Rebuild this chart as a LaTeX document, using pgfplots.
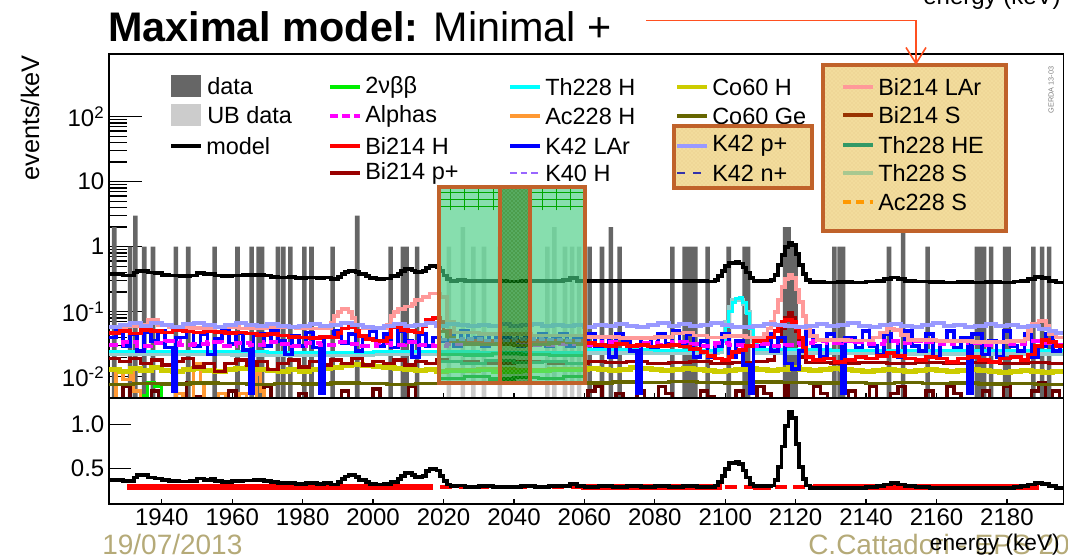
\documentclass[border=0pt]{standalone}
\usepackage{pgfplots}
\pgfplotsset{compat=1.18}
\usepackage{fontspec}
\setmainfont{Liberation Sans}
\usetikzlibrary{patterns,arrows.meta}

\definecolor{datagray}{HTML}{666666}
\definecolor{ubgray}{HTML}{CCCCCC}
\definecolor{cnu}{HTML}{00EE00}
\definecolor{calpha}{HTML}{FF00FF}
\definecolor{cbiH}{HTML}{FF0000}
\definecolor{cbiP}{HTML}{990000}
\definecolor{cbiLow}{HTML}{660000}
\definecolor{cthH}{HTML}{00FFFF}
\definecolor{cacH}{HTML}{FF9933}
\definecolor{ckL}{HTML}{0000FF}
\definecolor{ckH}{HTML}{9966FF}
\definecolor{ccoH}{HTML}{CCCC00}
\definecolor{ccoGe}{HTML}{666600}
\definecolor{ckp}{HTML}{9999FF}
\definecolor{ckn}{HTML}{3333AA}
\definecolor{cbiL}{HTML}{FF9999}
\definecolor{cbiS}{HTML}{993300}
\definecolor{cthHE}{HTML}{339966}
\definecolor{cthS}{HTML}{99CCCC}
\definecolor{cthSleg}{HTML}{A8C890}
\definecolor{cacS}{HTML}{FF9900}
\definecolor{boxedge}{HTML}{C0622A}
\definecolor{boxfill}{HTML}{F2DC9C}
\definecolor{mint}{RGB}{70,205,130}
\definecolor{khaki}{HTML}{B5AA78}
\definecolor{arrowred}{HTML}{FF5020}

\pgfplotsset{
  rootframe/.style={
    scale only axis, width=715.7pt,
    xmin=1925, xmax=2196,
    axis line style={line width=1pt},
    tick align=inside, xtick pos=bottom, ytick pos=left,
    tick style={black, line width=0.9pt},
    xtick style={/pgfplots/major tick length=3.5pt},
    xtick={1940,1960,...,2180},
    ticklabel style={font=\fontsize{18}{18}\selectfont},
    clip=true,
  },
  comp/.style={const plot, line width=#1, mark=none},
  comp/.default=1.6pt,
}

\begin{document}
\begin{tikzpicture}[x=0.75pt,y=0.75pt]
\path[use as bounding box] (0,0) rectangle (1068,559);

% ---------------- upper panel: spectrum, log scale ----------------
\begin{axis}[rootframe,
  at={(81.75pt,120.75pt)}, anchor=south west, height=258pt,
  ymode=log, ymin=0.0047, ymax=920, log origin y=infty,
  major tick length=24.75pt, minor tick length=13.5pt,
  ytick={0.01,0.1,1,10,100},
  yticklabels={10\textsuperscript{-2},10\textsuperscript{-1},1,10,10\textsuperscript{2}},
  xticklabels={},
]
% data counts per 1 keV bin
\addplot[ybar, bar width=1.3, bar shift=0pt, fill=datagray, draw=none] coordinates {
(1926.5,2)(1931,1)(1932.5,3)(1935,1)(1937.5,1)(1944,1)(1947.5,1)(1955,1)(1961.5,1)
(1965.5,1)(1967.5,1)(1968.5,1)(1973,1)(1974.5,1)(1976.5,1)(1980.5,1)(1982.5,1)
(1988.5,1)(1995.5,3)(2005,1)(2008.5,1)(2009.5,1)(2012.5,1)(2061.5,1)(2065,1)
(2067.5,2)(2070,1)(2085,1)(2088.5,1)(2089.5,1)(2090.5,1)(2091.5,1)(2095,1)(2101,1)
(2105.5,1)(2106.5,1)(2117,2)(2118,2)(2119,1)(2120,1)(2131,1)(2132.5,1)(2133.5,1)
(2146.5,1)(2150.5,2)(2157.5,1)(2171.5,1)(2172.5,1)(2173.5,1)(2175.5,1)(2179.5,1)
(2180.5,1)(2187.5,1)(2190,1)(2192,1)};
% unblinded data inside the blinding window
\addplot[ybar, bar width=1.3, bar shift=0pt, fill=ubgray, draw=none] coordinates {
(2021.5,1)(2025.5,2)(2028.5,1)(2031.5,1)(2036,1)(2044.5,1)(2049.5,1)(2051.5,2)
(2054.5,1)(2056.5,1)(2058.5,1)};

% Bi214 p+ low-level fluctuations
\addplot[comp=2.6pt, cbiLow] coordinates {
(1925,.003)(1929,.007)(1931,.003)(1937,.006)(1939,.003)(1947,.008)(1949,.005)(1951,.003)
(1959,.006)(1961,.003)(1969,.007)(1971,.003)(1979,.0055)(1981,.003)(1991,.006)(1993,.003)
(2000,.0065)(2002,.003)(2010,.007)(2012,.003)(2061,.006)(2063,.007)(2065,.003)(2069,.0055)
(2071,.003)(2075,.006)(2077,.003)(2081,.007)(2083,.0055)(2085,.003)(2093,.006)(2095,.005)
(2097,.003)(2103,.006)(2105,.003)(2109,.007)(2111,.0055)(2113,.003)(2117,.008)(2118,.003)
(2125,.007)(2127,.0055)(2129,.003)(2135,.006)(2137,.003)(2141,.007)(2143,.003)(2147,.0055)
(2149,.007)(2151,.003)(2157,.006)(2159,.003)(2163,.007)(2165,.0055)(2167,.003)(2173,.006)
(2175,.003)(2179,.007)(2181,.003)(2187,.006)(2189,.008)(2191,.003)(2193,.006)(2195,.003)(2196,.003)};
% 2nbb
\addplot[comp=2.4pt, cnu] coordinates {(1925,.003)(1934,.0052)(1936,.008)(1938,.0072)(1940,.003)(2196,.003)};
% Ac228 H
\addplot[comp=2.4pt, cacH] coordinates {
(1925,.003)(1927,.012)(1929,.009)(1931,.014)(1932,.006)(1934,.003)(1944,.0055)(1946,.003)
(1949,.016)(1951,.008)(1952,.003)(1956,.0055)(1958,.003)(1962,.0055)(1964,.003)(1967,.011)
(1968,.006)(1969,.003)(2196,.003)};
% Co60 Ge
\addplot[comp=2.6pt, ccoGe] coordinates {
(1925,.0076)(1932,.0079)(1940,.0077)(1948,.0080)(1956,.0078)(1964,.0076)(1972,.0079)
(1980,.0077)(1988,.0080)(1996,.0078)(2004,.0076)(2012,.0079)(2020,.0078)(2060,.0080)
(2068,.0083)(2076,.0081)(2084,.0084)(2092,.0082)(2100,.0080)(2108,.0083)(2116,.0081)
(2124,.0080)(2132,.0082)(2140,.0079)(2148,.0081)(2156,.0078)(2164,.0080)(2172,.0077)
(2180,.0079)(2188,.0076)(2196,.0076)};
% Co60 H
\addplot[comp=3.6pt, ccoH] coordinates {
(1925,.013)(1928,.012)(1931,.0135)(1934,.0125)(1937,.014)(1940,.0125)(1943,.012)(1946,.013)
(1949,.0135)(1952,.0125)(1955,.012)(1958,.013)(1961,.0135)(1964,.014)(1967,.013)(1970,.0125)
(1973,.012)(1976,.013)(1979,.012)(1982,.013)(1985,.0135)(1988,.014)(1991,.015)(1994,.0155)
(1997,.015)(2000,.0145)(2003,.014)(2006,.0135)(2009,.013)(2012,.0125)(2015,.013)(2018,.012)
(2021,.0125)(2030,.013)(2040,.0125)(2050,.013)(2061,.0135)(2064,.013)(2067,.0125)(2070,.013)
(2073,.014)(2076,.0135)(2079,.013)(2082,.0125)(2085,.013)(2088,.0135)(2091,.013)(2094,.0125)
(2097,.012)(2100,.0125)(2103,.013)(2106,.0135)(2109,.013)(2112,.0125)(2115,.013)(2118,.014)
(2121,.013)(2124,.0125)(2127,.013)(2130,.0135)(2133,.013)(2136,.0125)(2139,.012)(2142,.0125)
(2145,.013)(2148,.0125)(2151,.012)(2154,.0125)(2157,.013)(2160,.0125)(2163,.012)(2166,.0125)
(2169,.013)(2172,.0125)(2175,.012)(2178,.0115)(2181,.012)(2184,.0125)(2187,.012)(2190,.0115)
(2193,.012)(2196,.012)};
% Bi214 p+
\addplot[comp=2.6pt, cbiP] coordinates {
(1925,.019)(1928,.017)(1931,.019)(1934,.016)(1937,.018)(1940,.015)(1943,.017)(1946,.019)
(1949,.014)(1952,.016)(1955,.012)(1958,.016)(1961,.018)(1964,.015)(1967,.017)(1970,.013)
(1973,.016)(1976,.018)(1979,.014)(1982,.017)(1985,.015)(1988,.018)(1991,.016)(1994,.019)
(1997,.015)(2000,.017)(2003,.016)(2006,.018)(2009,.015)(2012,.017)(2015,.016)(2018,.018)
(2021,.017)(2030,.016)(2040,.017)(2050,.016)(2061,.017)(2066,.0165)(2072,.017)(2078,.016)
(2084,.0165)(2090,.017)(2096,.016)(2102,.0165)(2108,.017)(2112,.018)(2114,.025)(2115,.035)
(2116,.055)(2117,.08)(2118,.095)(2119,.08)(2120,.05)(2121,.03)(2122,.02)(2123,.0165)
(2130,.016)(2138,.0165)(2146,.016)(2154,.0165)(2162,.016)(2170,.0165)(2178,.016)(2186,.0165)
(2192,.016)(2196,.016)};
% Th228 S
\addplot[comp=3pt, cthS] coordinates {
(1925,.022)(1960,.0215)(2000,.022)(2060,.0235)(2098,.024)(2099,.04)(2100,.07)(2101,.12)
(2102,.15)(2104,.15)(2105,.13)(2106,.10)(2107,.06)(2108,.035)(2109,.023)(2150,.0225)(2196,.0225)};
% Th228 H
\addplot[comp=2.2pt, cthH] coordinates {
(1925,.0245)(1945,.024)(1970,.0235)(2000,.024)(2030,.0235)(2060,.026)(2080,.0255)(2098,.026)
(2099,.035)(2100,.06)(2101,.10)(2102,.14)(2103,.16)(2104,.165)(2105,.14)(2106,.095)(2107,.055)
(2108,.032)(2109,.026)(2130,.0255)(2160,.025)(2196,.025)};
% K42 LAr
\addplot[comp=2.8pt, ckL] coordinates {
(1925,.04)(1927,.05)(1929,.03)(1931,.045)(1933,.025)(1935,.048)(1937,.035)(1939,.05)(1941,.028)
(1943,.006)(1944,.04)(1947,.05)(1949,.03)(1951,.045)(1953,.022)(1955,.038)(1957,.05)(1959,.032)
(1961,.047)(1963,.026)(1965,.0055)(1966,.045)(1969,.03)(1971,.05)(1973,.035)(1975,.022)(1977,.042)
(1979,.03)(1981,.048)(1983,.028)(1985,.0055)(1986,.04)(1989,.05)(1991,.033)(1993,.045)(1995,.025)
(1997,.04)(1999,.05)(2001,.03)(2003,.045)(2005,.028)(2007,.05)(2009,.035)(2011,.02)(2013,.045)
(2015,.03)(2017,.04)(2019,.035)(2021,.045)(2023,.03)(2025,.05)(2027,.035)(2029,.04)(2031,.03)
(2033,.045)(2035,.033)(2037,.04)(2039,.045)(2041,.03)(2043,.04)(2045,.035)(2047,.045)(2049,.03)
(2051,.04)(2053,.045)(2055,.03)(2057,.04)(2059,.035)(2061,.045)(2063,.03)(2065,.04)(2067,.02)
(2069,.045)(2071,.035)(2073,.025)(2075,.0055)(2076,.04)(2079,.028)(2081,.045)(2083,.032)(2085,.05)
(2087,.03)(2089,.045)(2091,.02)(2093,.035)(2095,.02)(2097,.03)(2099,.045)(2101,.02)(2103,.035)
(2105,.015)(2107,.0055)(2108,.03)(2111,.045)(2113,.025)(2115,.04)(2117,.016)(2119,.013)(2121,.025)
(2123,.05)(2125,.03)(2127,.02)(2129,.045)(2131,.035)(2133,.0055)(2134,.04)(2137,.028)(2139,.05)
(2141,.03)(2143,.022)(2145,.045)(2147,.035)(2149,.02)(2151,.05)(2153,.03)(2155,.025)(2157,.045)
(2159,.02)(2161,.035)(2163,.05)(2165,.028)(2167,.04)(2169,.0055)(2170,.045)(2173,.022)(2175,.035)
(2177,.02)(2179,.05)(2181,.03)(2183,.025)(2185,.045)(2187,.02)(2189,.03)(2191,.045)(2193,.025)
(2195,.03)(2196,.03)};
% Alphas
\addplot[comp=3.2pt, calpha, dash pattern=on 7pt off 3pt] coordinates {
(1925,.031)(1929,.034)(1933,.030)(1937,.033)(1941,.035)(1945,.031)(1949,.032)(1953,.034)
(1957,.030)(1961,.033)(1965,.031)(1969,.034)(1973,.032)(1977,.030)(1981,.033)(1985,.031)
(1989,.034)(1993,.032)(1997,.030)(2001,.033)(2005,.031)(2009,.034)(2013,.031)(2017,.030)
(2021,.032)(2031,.033)(2041,.031)(2051,.032)(2061,.031)(2065,.034)(2069,.032)(2073,.030)
(2077,.033)(2081,.031)(2085,.034)(2089,.032)(2093,.030)(2097,.033)(2101,.031)(2105,.030)
(2109,.032)(2113,.030)(2117,.031)(2121,.033)(2125,.035)(2129,.033)(2133,.036)(2137,.034)
(2141,.032)(2145,.035)(2149,.033)(2153,.036)(2157,.034)(2161,.032)(2165,.035)(2169,.033)
(2173,.031)(2177,.034)(2181,.032)(2185,.035)(2189,.033)(2193,.031)(2196,.031)};
% Bi214 H
\addplot[comp=2.8pt, cbiH] coordinates {
(1925,.047)(1928,.05)(1931,.046)(1934,.052)(1937,.05)(1940,.048)(1943,.052)(1946,.05)(1949,.048)
(1952,.05)(1955,.049)(1958,.047)(1961,.048)(1964,.046)(1967,.044)(1970,.045)(1973,.043)(1976,.041)
(1979,.04)(1982,.039)(1985,.041)(1988,.04)(1990,.047)(1991,.055)(1993,.058)(1995,.05)(1996,.042)
(1998,.038)(2000,.036)(2002,.035)(2004,.04)(2005,.058)(2007,.06)(2008,.052)(2010,.05)(2012,.048)
(2014,.06)(2015,.075)(2017,.08)(2019,.07)(2020,.05)(2022,.035)(2060,.033)(2063,.031)(2066,.030)
(2069,.032)(2072,.03)(2075,.031)(2078,.029)(2081,.03)(2084,.031)(2087,.029)(2090,.027)(2093,.024)
(2095,.021)(2097,.019)(2099,.018)(2101,.02)(2102,.024)(2104,.026)(2106,.03)(2108,.035)(2110,.036)
(2112,.04)(2114,.05)(2115,.06)(2116,.07)(2117,.075)(2119,.07)(2120,.055)(2121,.04)(2122,.028)
(2123,.02)(2125,.018)(2128,.019)(2131,.017)(2134,.018)(2137,.02)(2140,.019)(2143,.021)(2146,.023)
(2148,.021)(2151,.019)(2154,.018)(2157,.02)(2160,.019)(2163,.017)(2166,.019)(2169,.02)(2172,.018)
(2175,.017)(2178,.019)(2181,.02)(2184,.018)(2186,.022)(2188,.03)(2190,.037)(2192,.034)(2194,.03)(2196,.03)};
% Bi214 LAr
\addplot[comp=2.8pt, cbiL] coordinates {
(1925,.057)(1930,.059)(1934,.062)(1936,.075)(1939,.062)(1942,.058)(1948,.056)(1955,.058)
(1962,.055)(1970,.057)(1978,.055)(1985,.056)(1988,.068)(1989,.085)(1990,.10)(1991,.11)(1993,.10)
(1994,.08)(1995,.062)(1997,.055)(2004,.062)(2005,.085)(2006,.10)(2007,.11)(2009,.12)(2011,.13)
(2012,.15)(2014,.17)(2016,.19)(2019,.17)(2021,.07)(2023,.048)(2030,.045)(2045,.043)(2060,.041)
(2070,.039)(2080,.041)(2085,.046)(2088,.048)(2091,.043)(2095,.040)(2100,.042)(2106,.040)(2111,.045)
(2112,.055)(2113,.07)(2114,.10)(2115,.15)(2116,.24)(2117,.32)(2118,.37)(2119,.33)(2120,.22)
(2121,.14)(2122,.085)(2123,.055)(2124,.042)(2126,.037)(2135,.036)(2142,.040)(2144,.048)(2146,.055)
(2148,.052)(2150,.044)(2152,.037)(2160,.035)(2170,.034)(2180,.035)(2185,.038)(2186,.050)(2187,.065)
(2189,.072)(2191,.060)(2192,.045)(2194,.040)(2196,.040)};
% K42 p+
\addplot[comp=3pt, ckp] coordinates {
(1925,.058)(1928,.063)(1931,.066)(1934,.061)(1937,.066)(1940,.062)(1943,.059)(1946,.064)(1949,.067)
(1952,.062)(1955,.059)(1958,.062)(1961,.066)(1964,.063)(1967,.060)(1970,.064)(1973,.061)(1976,.058)
(1979,.061)(1982,.065)(1985,.060)(1988,.063)(1991,.066)(1994,.062)(1997,.059)(2000,.057)(2003,.061)
(2006,.064)(2009,.060)(2012,.063)(2015,.066)(2018,.061)(2021,.064)(2024,.062)(2027,.060)(2030,.063)
(2033,.061)(2036,.064)(2039,.060)(2042,.062)(2045,.065)(2048,.061)(2051,.063)(2054,.060)(2057,.062)
(2060,.058)(2063,.062)(2066,.060)(2069,.064)(2072,.061)(2075,.059)(2078,.063)(2081,.066)(2084,.061)
(2087,.064)(2090,.060)(2093,.063)(2096,.067)(2099,.062)(2102,.059)(2105,.058)(2108,.061)(2111,.064)
(2114,.062)(2117,.060)(2120,.058)(2123,.061)(2126,.064)(2129,.060)(2132,.063)(2135,.066)(2138,.061)
(2141,.059)(2144,.062)(2147,.065)(2150,.061)(2153,.058)(2156,.062)(2159,.066)(2162,.061)(2165,.063)
(2168,.059)(2171,.061)(2174,.064)(2177,.060)(2180,.062)(2183,.058)(2186,.060)(2189,.055)(2192,.050)
(2194,.047)(2196,.047)};
% components shown in the blinded window
\addplot[comp=2.6pt, cbiS] coordinates {(2019,.05)(2021,.04)(2023,.035)(2026,.032)(2030,.031)(2035,.032)(2040,.030)(2045,.031)(2050,.033)(2053,.036)(2055,.034)(2058,.031)(2060,.031)};
\addplot[comp=2.4pt, ckH, dash pattern=on 5pt off 2pt] coordinates {(2019,.037)(2025,.038)(2032,.036)(2040,.038)(2048,.037)(2055,.036)(2060,.036)};
\addplot[comp=2.4pt, cthHE] coordinates {(2019,.017)(2025,.016)(2032,.0175)(2040,.0165)(2048,.017)(2055,.016)(2060,.016)};
\addplot[comp=2.4pt, green!60!black] coordinates {(2019,.0095)(2026,.010)(2033,.0092)(2040,.0098)(2047,.0094)(2054,.0102)(2060,.0102)};
\addplot[comp=2.4pt, teal!60!green] coordinates {(2019,.022)(2026,.0215)(2034,.0225)(2042,.022)(2050,.021)(2060,.021)};
\addplot[comp=2.4pt, green!50!yellow] coordinates {(2019,.012)(2026,.0125)(2034,.0118)(2042,.0122)(2050,.0126)(2060,.0126)};
% model
\addplot[comp=2.8pt, black] coordinates {
(1925,.375)(1929,.36)(1932,.40)(1933,.425)(1936,.40)(1938,.39)(1940,.37)(1942,.36)(1945,.355)
(1948,.36)(1950,.39)(1952,.375)(1954,.385)(1955,.36)(1957,.35)(1960,.36)(1963,.365)(1966,.37)
(1969,.36)(1971,.345)(1973,.335)(1976,.34)(1978,.33)(1981,.335)(1984,.33)(1986,.335)(1988,.32)
(1990,.345)(1991,.38)(1992,.41)(1993,.425)(1995,.405)(1996,.375)(1998,.35)(1999,.33)(2001,.32)
(2003,.325)(2005,.35)(2007,.38)(2008,.42)(2009,.45)(2011,.43)(2012,.405)(2014,.42)(2015,.47)
(2016,.5)(2018,.48)(2019,.42)(2020,.36)(2021,.32)(2022,.30)(2024,.31)(2026,.295)(2030,.30)
(2034,.295)(2038,.29)(2042,.3)(2046,.295)(2050,.30)(2054,.305)(2056,.33)(2058,.30)(2060,.295)
(2064,.30)(2068,.295)(2072,.30)(2076,.295)(2080,.30)(2084,.295)(2088,.30)(2092,.295)(2095,.29)
(2097,.31)(2098,.35)(2099,.42)(2100,.5)(2101,.56)(2103,.58)(2104,.55)(2105,.48)(2106,.4)(2107,.33)
(2108,.30)(2111,.30)(2113,.31)(2114,.37)(2115,.52)(2116,.75)(2117,.98)(2118,1.14)(2119,1.07)
(2120,.78)(2121,.52)(2122,.38)(2123,.31)(2124,.285)(2128,.28)(2132,.285)(2136,.28)(2140,.29)
(2143,.30)(2145,.32)(2147,.335)(2149,.32)(2151,.30)(2154,.29)(2158,.285)(2162,.28)(2166,.285)
(2170,.28)(2174,.285)(2178,.28)(2182,.29)(2184,.30)(2186,.32)(2188,.34)(2190,.33)(2192,.30)
(2194,.28)(2196,.28)};

% highlighted blinding window
\fill[mint, opacity=0.65] (axis cs:2018.8,0.0079) rectangle (axis cs:2036.1,8.4);
\fill[mint, opacity=0.65] (axis cs:2044.6,0.0079) rectangle (axis cs:2060.1,8.4);
\fill[green!45!black, opacity=0.7] (axis cs:2036.1,0.0079) rectangle (axis cs:2044.6,8.4);
\fill[pattern=crosshatch dots, pattern color=mint!70!white] (axis cs:2036.1,0.0079) rectangle (axis cs:2044.6,8.4);
\draw[green!65!black, line width=0.4pt] (axis cs:2018.8,4.2) -- (axis cs:2036.1,4.2);
\draw[green!65!black, line width=0.4pt] (axis cs:2018.8,5.4) -- (axis cs:2036.1,5.4);
\draw[green!65!black, line width=0.4pt] (axis cs:2018.8,6.8) -- (axis cs:2036.1,6.8);
\draw[green!65!black, line width=0.4pt] (axis cs:2044.6,4.2) -- (axis cs:2060.1,4.2);
\draw[green!65!black, line width=0.4pt] (axis cs:2044.6,5.4) -- (axis cs:2060.1,5.4);
\draw[green!65!black, line width=0.4pt] (axis cs:2044.6,6.8) -- (axis cs:2060.1,6.8);
\draw[green!65!black, line width=0.4pt] (axis cs:2022,3.6) -- (axis cs:2022,8.4);
\draw[green!65!black, line width=0.4pt] (axis cs:2026,3.6) -- (axis cs:2026,8.4);
\draw[green!65!black, line width=0.4pt] (axis cs:2030,3.6) -- (axis cs:2030,8.4);
\draw[green!65!black, line width=0.4pt] (axis cs:2034,3.6) -- (axis cs:2034,8.4);
\draw[green!65!black, line width=0.4pt] (axis cs:2048,3.6) -- (axis cs:2048,8.4);
\draw[green!65!black, line width=0.4pt] (axis cs:2052,3.6) -- (axis cs:2052,8.4);
\draw[green!65!black, line width=0.4pt] (axis cs:2056,3.6) -- (axis cs:2056,8.4);
\draw[boxedge, line width=3pt] (axis cs:2018.8,0.0079) rectangle (axis cs:2060.1,8.4);
\draw[boxedge, line width=3pt] (axis cs:2036.1,0.0079) -- (axis cs:2036.1,8.4);
\draw[boxedge, line width=3pt] (axis cs:2044.6,0.0079) -- (axis cs:2044.6,8.4);
\end{axis}

% ---------------- lower panel: linear scale ----------------
\begin{axis}[rootframe,
  at={(81.75pt,41.25pt)}, anchor=south west, height=79.5pt,
  ymin=0.1, ymax=1.3,
  major tick length=16.5pt,
  ytick={0.5,1.0}, yticklabels={0.5,1.0},
  xticklabels={1940,1960,1980,2000,2020,2040,2060,2080,2100,2120,2140,2160,2180},
]
\addplot[draw=none, fill=red] coordinates {(1930,.262)(2017,.262)(2017,.327)(1930,.327)} -- cycle;
\addplot[draw=none, fill=red] coordinates {(2059,.262)(2099,.262)(2099,.327)(2059,.327)} -- cycle;
\addplot[draw=none, fill=red] coordinates {(2108,.262)(2113,.262)(2113,.327)(2108,.327)} -- cycle;
\addplot[draw=none, fill=red] coordinates {(2125,.262)(2189,.262)(2189,.327)(2125,.327)} -- cycle;
\addplot[red, line width=3.5pt, dash pattern=on 9pt off 5pt] coordinates {(2019,.293)(2059,.293)};
\addplot[red, line width=3.5pt, dash pattern=on 9pt off 5pt] coordinates {(2100,.293)(2108,.293)};
\addplot[red, line width=3.5pt, dash pattern=on 9pt off 5pt] coordinates {(2114,.293)(2125,.293)};
\addplot[comp=2.8pt, black] coordinates {
(1925,.375)(1929,.36)(1932,.40)(1933,.425)(1936,.40)(1938,.39)(1940,.37)(1942,.36)(1945,.355)
(1948,.36)(1950,.39)(1952,.375)(1954,.385)(1955,.36)(1957,.35)(1960,.36)(1963,.365)(1966,.37)
(1969,.36)(1971,.345)(1973,.335)(1976,.34)(1978,.33)(1981,.335)(1984,.33)(1986,.335)(1988,.32)
(1990,.345)(1991,.38)(1992,.41)(1993,.425)(1995,.405)(1996,.375)(1998,.35)(1999,.33)(2001,.32)
(2003,.325)(2005,.35)(2007,.38)(2008,.42)(2009,.45)(2011,.43)(2012,.405)(2014,.42)(2015,.47)
(2016,.5)(2018,.48)(2019,.42)(2020,.36)(2021,.32)(2022,.30)(2024,.31)(2026,.295)(2030,.30)
(2034,.295)(2038,.29)(2042,.3)(2046,.295)(2050,.30)(2054,.305)(2056,.33)(2058,.30)(2060,.295)
(2064,.30)(2068,.295)(2072,.30)(2076,.295)(2080,.30)(2084,.295)(2088,.30)(2092,.295)(2095,.29)
(2097,.31)(2098,.35)(2099,.42)(2100,.5)(2101,.56)(2103,.58)(2104,.55)(2105,.48)(2106,.4)(2107,.33)
(2108,.30)(2111,.30)(2113,.31)(2114,.37)(2115,.52)(2116,.75)(2117,.98)(2118,1.14)(2119,1.07)
(2120,.78)(2121,.52)(2122,.38)(2123,.31)(2124,.285)(2128,.28)(2132,.285)(2136,.28)(2140,.29)
(2143,.30)(2145,.32)(2147,.335)(2149,.32)(2151,.30)(2154,.29)(2158,.285)(2162,.28)(2166,.285)
(2170,.28)(2174,.285)(2178,.28)(2182,.29)(2184,.30)(2186,.32)(2188,.34)(2190,.33)(2192,.30)
(2194,.28)(2196,.28)};
\end{axis}

% ---------------- legend ----------------
\def\lgfont{\fontsize{17.6}{18}\selectfont}
\newcommand{\lgline}[4]{%
  \draw[#3] (#1,559-#2) -- ++(30,0);
  \node[anchor=west, inner sep=0pt, font=\lgfont] at (#1+35,559-#2) {#4};}
% column 1
\fill[datagray] (171,559-75) rectangle (201,559-97);
\node[anchor=west, inner sep=0pt, font=\lgfont] at (207,559-86) {data};
\fill[ubgray] (171,559-104) rectangle (201,559-126);
\node[anchor=west, inner sep=0pt, font=\lgfont] at (207,559-115) {UB data};
\lgline{171}{146}{black, line width=2.6pt}{model}
% column 2
\lgline{330}{87}{cnu, line width=2.4pt}{2νββ}
\lgline{330}{116}{calpha, line width=2.8pt, dash pattern=on 6pt off 3pt}{Alphas}
\lgline{330}{146}{cbiH, line width=2.4pt}{Bi214 H}
\lgline{330}{173}{cbiP, line width=2.4pt}{Bi214 p+}
% column 3
\lgline{510}{87}{cthH, line width=2.4pt}{Th228 H}
\lgline{510}{116}{cacH, line width=2.4pt}{Ac228 H}
\lgline{510}{146}{ckL, line width=2.4pt}{K42 LAr}
\lgline{510}{173}{ckH, line width=2pt, dash pattern=on 5pt off 3pt}{K40 H}
% column 4
\lgline{677}{87}{ccoH, line width=2.4pt}{Co60 H}
\lgline{677}{116}{ccoGe, line width=2.4pt}{Co60 Ge}
\fill[boxfill] (674,559-126) rectangle (812,559-188);
\fill[pattern=crosshatch dots, pattern color=boxfill!80!brown] (674,559-126) rectangle (812,559-188);
\draw[boxedge, line width=3pt] (674,559-126) rectangle (812,559-188);
\lgline{677}{146}{ckp, line width=2.4pt}{K42 p+}
\lgline{677}{173}{ckn, line width=2pt, dash pattern=on 6pt off 6pt}{K42 n+}
% column 5
\fill[boxfill] (823,559-65) rectangle (1006,559-231);
\fill[pattern=crosshatch dots, pattern color=boxfill!80!brown] (823,559-65) rectangle (1006,559-231);
\draw[boxedge, line width=3pt] (823,559-65) rectangle (1006,559-231);
\lgline{843}{87}{cbiL, line width=2.4pt}{Bi214 LAr}
\lgline{843}{115}{cbiS, line width=2.4pt}{Bi214 S}
\lgline{843}{145}{cthHE, line width=2.4pt}{Th228 HE}
\lgline{843}{173}{cthSleg, line width=2.4pt}{Th228 S}
\lgline{843}{202}{cacS, line width=2.4pt, dash pattern=on 6pt off 4pt}{Ac228 S}

% ---------------- texts and annotations ----------------
\node[anchor=base west, inner sep=0pt, font=\fontsize{31}{31}\selectfont] at (108,559-41.7) {\textbf{Maximal model:} Minimal +};
\node[anchor=base east, inner sep=0pt, font=\fontsize{18}{18}\selectfont] at (1061,559-5) {energy (keV)};
\draw[arrowred, line width=1.2pt, -{Straight Barb[length=12pt, width=15pt]}] (646,559-20.7) -- (916,559-20.7) -- (916,559-65);
\node[rotate=90, inner sep=0pt, font=\fontsize{19}{19}\selectfont] at (30,559-118) {events/keV};
\node[rotate=90, inner sep=0pt, text=gray, font=\fontsize{5.5}{6}\selectfont] at (1051,559-90) {GERDA 13-03};
\node[anchor=base west, inner sep=0pt, text=khaki, font=\fontsize{21}{21}\selectfont] at (102,559-555) {19/07/2013};
\node[anchor=base west, inner sep=0pt, text=khaki, font=\fontsize{21}{21}\selectfont] at (808,559-555) {C.Cattadori - EPS 2013};
\node[anchor=base east, inner sep=0pt, font=\fontsize{17}{17}\selectfont] at (1060,559-551) {energy (keV)};
\end{tikzpicture}
\end{document}
